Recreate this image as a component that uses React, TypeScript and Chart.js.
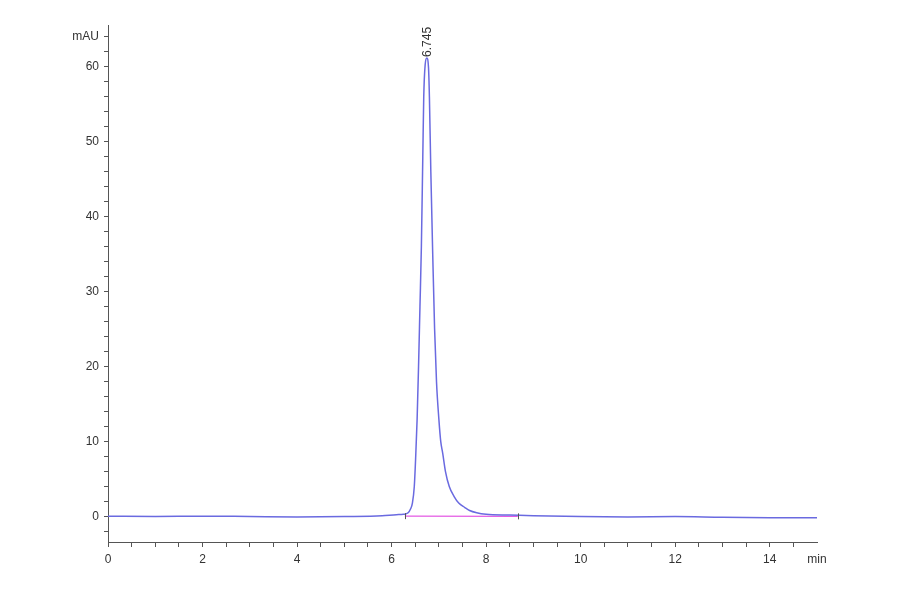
import React, { useEffect, useRef } from "react";
import { Chart, registerables } from "chart.js";

Chart.register(...registerables);

// Chromatogram trace (time in min, absorbance in mAU)
const timeMin = [
  0, 1, 2, 3, 4, 5, 5.8, 6.1, 6.25, 6.35, 6.4, 6.44, 6.48, 6.51, 6.54, 6.57,
  6.6, 6.63, 6.66, 6.68, 6.71, 6.745, 6.78, 6.8, 6.83, 6.87, 6.91, 6.95, 7.0,
  7.04, 7.08, 7.14, 7.22, 7.32, 7.42, 7.55, 7.65, 7.8, 8.0, 8.5, 9, 10, 11,
  12, 13, 14, 15,
];
const signalMAU = [
  0.05, 0.0, 0.05, 0.0, -0.05, 0.0, 0.1, 0.25, 0.3, 0.5, 1.0, 1.8, 4, 8, 13,
  20, 28, 36, 48, 56, 60.3, 61.2, 60, 56, 46, 35, 25, 18, 13, 10, 8.5, 6, 4,
  2.7, 1.8, 1.2, 0.8, 0.5, 0.3, 0.2, 0.1, 0.0, -0.05, 0.0, -0.1, -0.15, -0.15,
];

// Integration baseline
const baselineTime = [6.28, 8.67];
const baselineMAU = [0.05, 0.02];

// Peak annotation
const peakTime = 6.745;
const peakHeight = 61.2;
const peakLabel = "6.745";

// Axis ticks
const xMinorStep = 0.5;
const xLabelStep = 2;
const xMax = 15;
const xUnitLabel = "min";
const yMinorStep = 2;
const yLabelStep = 10;
const yMin = -3.4;
const yMax = 65.6;
const yUnitTick = 64;
const yUnitLabel = "mAU";

const FONT = '"Liberation Sans Narrow", "Liberation Sans", Arial, sans-serif';

export default function App() {
  const ref = useRef<HTMLCanvasElement | null>(null);

  useEffect(() => {
    if (!ref.current) return;

    const peakPlugin = {
      id: "peakLabel",
      afterDatasetsDraw(chart: any) {
        const { ctx, scales } = chart;
        const px = scales.x.getPixelForValue(peakTime);
        const py = scales.y.getPixelForValue(peakHeight);
        ctx.save();
        ctx.translate(px + 1, py - 1);
        ctx.rotate(-Math.PI / 2);
        ctx.font = `12px ${FONT}`;
        ctx.fillStyle = "#333";
        ctx.textAlign = "left";
        ctx.textBaseline = "middle";
        ctx.fillText(peakLabel, 0, 0);
        ctx.restore();
        // baseline end marks
        ctx.save();
        ctx.strokeStyle = "#555";
        ctx.lineWidth = 1;
        baselineTime.forEach((t, i) => {
          const bx = Math.round(scales.x.getPixelForValue(t)) + 0.5;
          const by = scales.y.getPixelForValue(baselineMAU[i]);
          ctx.beginPath();
          ctx.moveTo(bx, by - 3);
          ctx.lineTo(bx, by + 3);
          ctx.stroke();
        });
        ctx.restore();
      },
    };

    const chart = new Chart(ref.current, {
      type: "line",
      data: {
        datasets: [
          {
            data: timeMin.map((t, i) => ({ x: t, y: signalMAU[i] })),
            borderColor: "#6a6ae0",
            borderWidth: 1.5,
            pointRadius: 0,
            cubicInterpolationMode: "monotone",
          },
          {
            data: baselineTime.map((t, i) => ({ x: t, y: baselineMAU[i] })),
            borderColor: "#e45ae4",
            borderWidth: 1.2,
            pointRadius: 0,
          },
        ],
      },
      options: {
        animation: false,
        responsive: false,
        layout: { padding: { left: 0, top: 25, right: 83, bottom: 0 } },
        plugins: { legend: { display: false }, tooltip: { enabled: false } },
        scales: {
          x: {
            type: "linear",
            min: 0,
            max: xMax,
            afterBuildTicks(scale: any) {
              const ticks = [];
              for (let v = 0; v <= xMax + 1e-9; v += xMinorStep) ticks.push({ value: v });
              scale.ticks = ticks;
            },
            afterFit(scale: any) {
              scale.height = 52;
            },
            ticks: {
              autoSkip: false,
              maxRotation: 0,
              minRotation: 0,
              padding: 5,
              color: "#333",
              font: { family: FONT, size: 12 },
              callback(v: any) {
                const n = Number(v);
                if (Math.abs(n - xMax) < 1e-9) return xUnitLabel;
                return Math.abs(n % xLabelStep) < 1e-9 ? String(n) : "";
              },
            },
            grid: {
              drawOnChartArea: false,
              drawTicks: true,
              tickLength: 5,
              tickColor: (c: any) =>
                c.tick && Math.abs(c.tick.value - xMax) < 1e-9 ? "rgba(0,0,0,0)" : "#555",
            },
            border: { color: "#555", width: 1 },
          },
          y: {
            type: "linear",
            min: yMin,
            max: yMax,
            afterBuildTicks(scale: any) {
              const ticks = [];
              for (let v = -2; v <= yUnitTick; v += yMinorStep) ticks.push({ value: v });
              scale.ticks = ticks;
            },
            afterFit(scale: any) {
              scale.width = 108;
            },
            ticks: {
              autoSkip: false,
              padding: 5,
              color: "#333",
              font: { family: FONT, size: 12 },
              callback(v: any) {
                const n = Number(v);
                if (n === yUnitTick) return yUnitLabel;
                return n >= 0 && n % yLabelStep === 0 ? String(n) : "";
              },
            },
            grid: {
              drawOnChartArea: false,
              drawTicks: true,
              tickLength: 4,
              tickColor: "#555",
            },
            border: { color: "#555", width: 1 },
          },
        },
      },
      plugins: [peakPlugin],
    } as any);

    return () => chart.destroy();
  }, []);

  return (
    <div style={{ position: "absolute", left: 0, top: 0, width: 900, height: 594, background: "#fff" }}>
      <canvas ref={ref} width={900} height={594} />
    </div>
  );
}
